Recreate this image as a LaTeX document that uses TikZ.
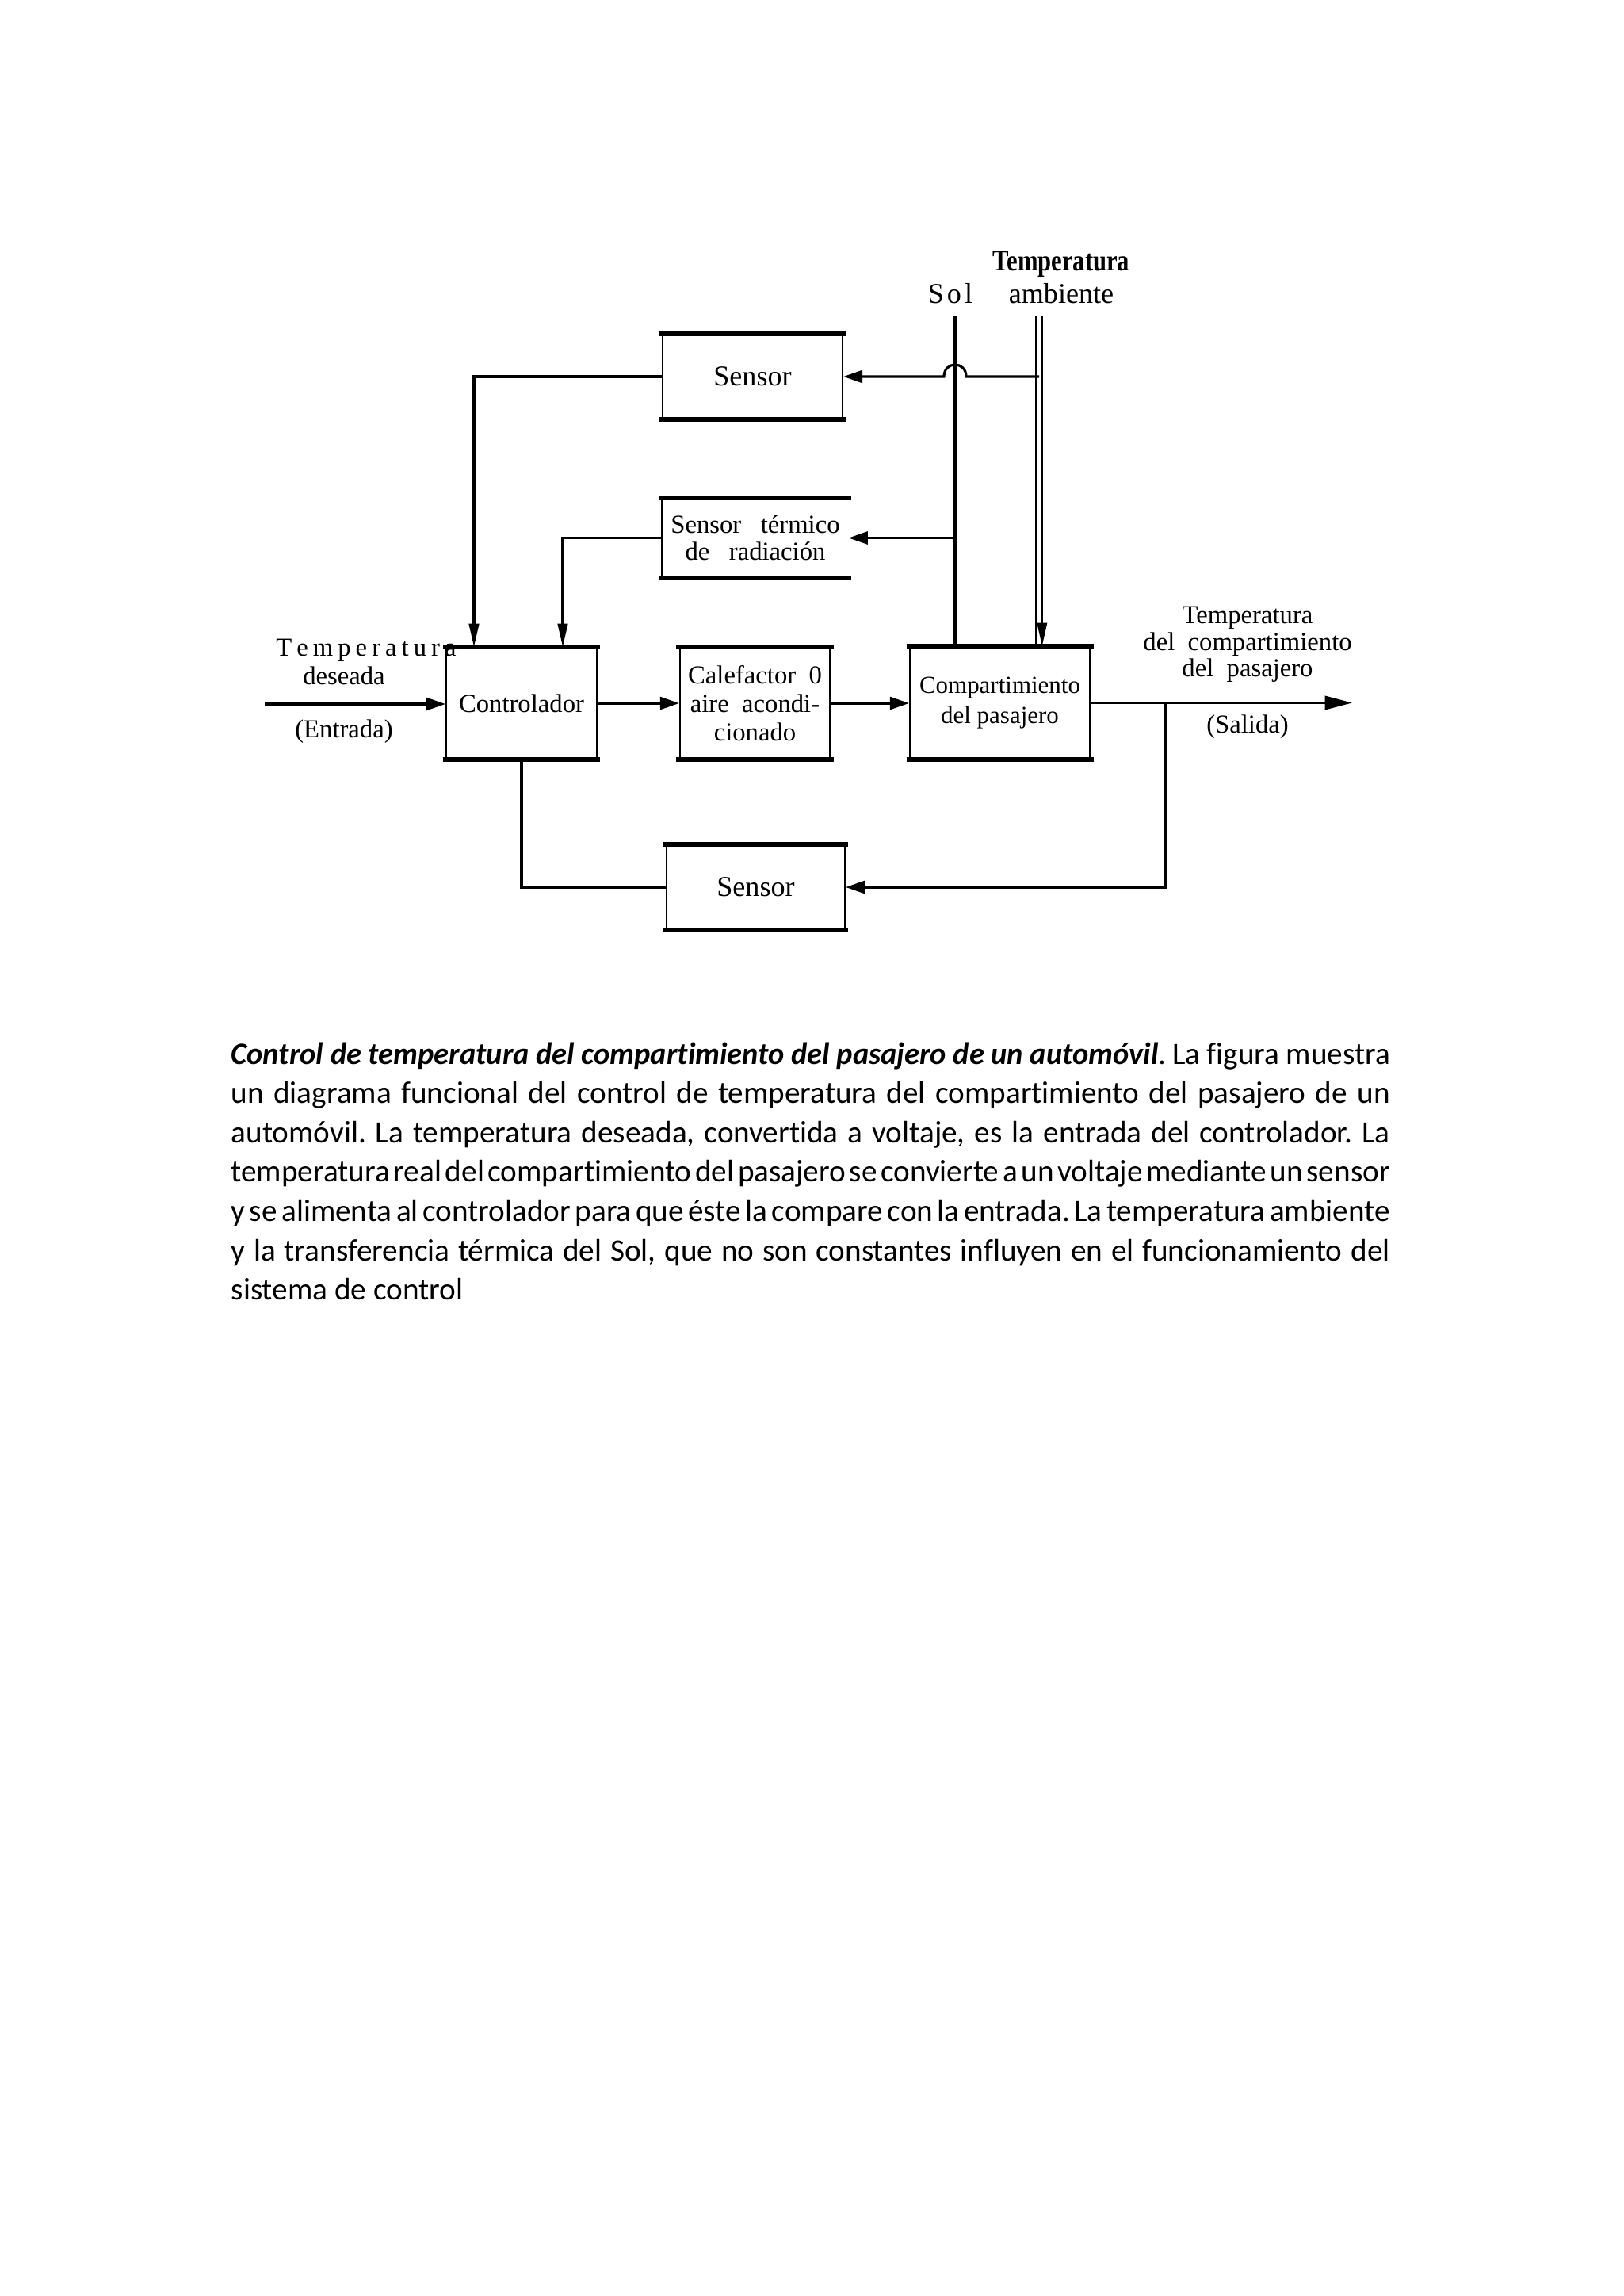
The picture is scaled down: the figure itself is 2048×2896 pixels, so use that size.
\documentclass[tikz,border=0pt]{standalone}
\usepackage{graphicx}
\usepackage{fontspec}
\setmainfont{Liberation Serif}
\newfontfamily\capfont[Ligatures=NoCommon]{Carlito}
\usetikzlibrary{arrows.meta}
\frenchspacing
\newcommand\capline[1]{\hbox to 425pt{\spaceskip=0.226em plus 1em minus 0.17em\relax #1}}
\newcommand\capsq[1]{\hbox to 425pt{\spaceskip=0.04em plus 1em\relax #1}}
\newcommand\ls{\hspace{1.75pt}}
\begin{document}
\begin{tikzpicture}[x=0.29066pt, y=-0.29066pt,
  blk/.style={inner sep=0pt, draw, line width=0.6pt, font=\fontsize{9.5}{10.5}\selectfont, align=center},
  lbl/.style={inner sep=0pt, font=\fontsize{9.5}{10}\selectfont, align=center},
  edge/.style={line width=0.9pt},
  arr/.style={-{Triangle[length=7pt,width=4.6pt]}},
  darr/.style={-{Triangle[length=8.5pt,width=3.6pt]}},
  thickedge/.style={line width=1.5pt}]
\useasboundingbox (0,0) rectangle (2048,2896);
\fill[white] (0,0) rectangle (2048,2896);

% blocks
\node[blk, minimum width=66pt, minimum height=30.8pt, font=\fontsize{10.5}{12}\selectfont] (sensA) at (949.5,475) {Sensor};
\node[lbl, minimum width=68pt, minimum height=28.8pt] (st) at (953,678.5) {Sensor\ \ \ térmico\\de\ \ \ radiación};
\node[blk, minimum width=55.2pt, minimum height=40.7pt] (ctrl) at (658,887) {Controlador};
\node[blk, minimum width=55pt, minimum height=40.7pt] (cal) at (952.5,887) {Calefactor\ \ 0\\aire\ \ acondi-\\cionado};
\node[blk, minimum width=66pt, minimum height=41pt, font=\fontsize{9}{10.8}\selectfont] (comp) at (1261.5,886.5) {Compartimiento\\del pasajero};
\node[blk, minimum width=65.4pt, minimum height=30.8pt, font=\fontsize{10.5}{12}\selectfont] (sensB) at (953.5,1119) {Sensor};

\foreach \n in {sensA,ctrl,cal,comp,sensB,st}{
  \draw[thickedge] ([xshift=-1pt]\n.north west) -- ([xshift=1pt]\n.north east);
  \draw[thickedge] ([xshift=-1pt]\n.south west) -- ([xshift=1pt]\n.south east);
}
\draw[line width=0.6pt] (st.north west) -- (st.south west);

% labels
\node[lbl, font=\fontsize{11}{12}\selectfont\bfseries] (tamb1) at (1339,333) {\scalebox{0.81}[1]{Temperatura}};
\node[lbl, font=\fontsize{10.5}{12}\selectfont] (tamb2) at (1339,370) {ambiente};
\node[lbl, font=\fontsize{10.5}{12}\selectfont] (solt) at (1199,370) {S\hspace{1.2pt}o\hspace{1.2pt}l};
\node[lbl, font=\fontsize{9.5}{12}\selectfont] (td1) at (462,820) {T\ls e\ls m\ls p\ls e\ls r\ls a\ls t\ls u\ls r\ls a};
\node[lbl] (td2) at (434,852) {deseada};
\node[lbl] (td3) at (434,923) {(Entrada)};
\node[lbl, font=\fontsize{9.5}{9.7}\selectfont] (tc) at (1574,813) {Temperatura\\del\ \ compartimiento\\del\ \ pasajero};
\node[lbl] (ts) at (1574,917) {(Salida)};

% connectors
\coordinate (in) at (334,888);
\coordinate (out) at (1706,886.5);
\coordinate (br) at (1471,886.5);
\coordinate (fa) at (598,0);
\coordinate (fb) at (710,0);
\coordinate (sol) at (1205,399);
\coordinate (amb) at (1311,399);
\coordinate (hr) at (1219,475);
\coordinate (hl) at (1191,475);

\draw[edge,arr] (in) -- (in -| ctrl.west);
\draw[edge,arr] (ctrl.east) -- (cal.west);
\draw[edge,arr] (cal.east) -- (cal.east -| comp.west);
\draw[edge,-{Triangle[length=10pt,width=5pt]}] (comp.east) -- (out);
\draw[edge,arr] (br) |- (sensB.east);
\draw[edge] (sensB.west) -| (ctrl.south);
\draw[edge,darr] (sensA.west) -| (fa |- ctrl.north);
\draw[edge,darr] (st.west) -| (fb |- ctrl.north);
\draw[edge] (sol) -- (sol |- comp.north);
\draw[edge,arr] (sol |- st.east) -- (st.east);
\draw[line width=0.7pt] ([xshift=-1.1pt]amb) -- ([xshift=-1.1pt]amb |- comp.north);
\draw[line width=0.7pt,darr] ([xshift=1.1pt]amb) -- ([xshift=1.1pt]amb |- comp.north);
\draw[edge,arr] (amb |- sensA.east) -- (hr) .. controls (1219,455) and (1191,455) .. (hl) -- (sensA.east);

% caption
\begin{scope}[every node/.style={anchor=base west, inner sep=0pt, font=\capfont\fontsize{11.4}{13}\selectfont}]
\node (c1) at (291,1342) {\capline{\resizebox{340pt}{\height}{\bfseries\itshape Control de temperatura del compartimiento del pasajero de un automóvil}. La figura muestra}};
\node (c2) at (291,1391.6) {\capline{un diagrama funcional del control de temperatura del compartimiento del pasajero de un}};
\node (c3) at (291,1441.2) {\capline{automóvil. La temperatura deseada, convertida a voltaje, es la entrada del controlador. La}};
\node (c4) at (291,1490.8) {\capsq{temperatura real del compartimiento del pasajero se convierte a un voltaje mediante un sensor}};
\node (c5) at (291,1540.4) {\capsq{y se alimenta al controlador para que éste la compare con la entrada. La temperatura ambiente}};
\node (c6) at (291,1590) {\capline{y la transferencia térmica del Sol, que no son constantes influyen en el funcionamiento del}};
\node (c7) at (291,1639.6) {sistema de control};
\end{scope}
\end{tikzpicture}
\end{document}
